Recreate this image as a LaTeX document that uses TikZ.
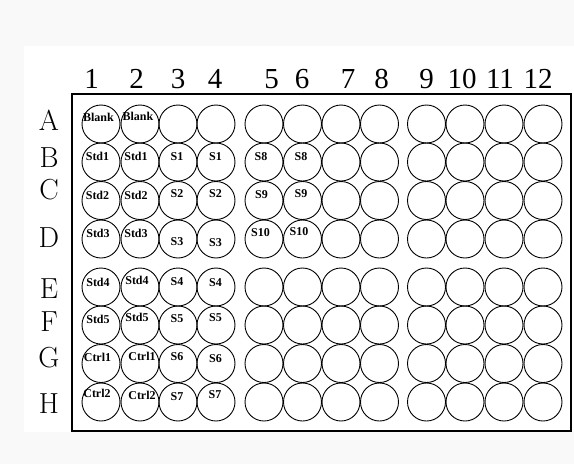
\documentclass[tikz,border=0pt]{standalone}
\usepackage{fontspec}
\newfontfamily\libser{Liberation Serif}
\begin{document}
\begin{tikzpicture}[x=1pt,y=-1pt,
  well/.style={circle,draw,line width=0.9pt,minimum size=38pt,inner sep=0pt},
  wtxt/.style={font=\libser\bfseries\fontsize{12}{12}\selectfont,inner sep=0pt},
  collab/.style={font=\libser\fontsize{29}{29}\selectfont,anchor=base,inner sep=0pt},
  rowlab/.style={font=\fontsize{29}{29}\selectfont,inner sep=0pt},
  platebox/.style={draw,line width=1.3pt,inner sep=0pt,minimum width=499pt,minimum height=337pt}]
\fill[gray!5] (0,0) rectangle (574,464);
\fill[white] (24,46) rectangle (574,432);
\useasboundingbox (0,0) rectangle (574,464);
\node[platebox] (plate) at (321.5,262.5) {};
% wells
\foreach \c/\x in {1/101,2/140,3/178,4/216,5/264,6/302.5,7/341,8/379.5,9/426.5,10/465,11/504,12/543}
  \foreach \r/\y in {A/124,B/162,C/200.5,D/239,E/287,F/325,G/363.5,H/402}
    \node[well] (w\r\c) at (\x,\y) {};
% column labels
\foreach \c/\x in {1/91.5,2/136.5,3/178,4/215,5/271.5,6/302,7/348,8/381.5,9/426.5,10/462,11/500,12/538}
  \node[collab] (col\c) at (\x,88) {\c};
% row labels
\foreach \r/\y in {A/120,B/158,C/190,D/238,E/289,F/322,G/358,H/404}
  \node[rowlab] (row\r) at (49,\y) {\r};
% well texts
\foreach \n/\x/\y/\t in {
  A1/98.5/117/Blank, A2/138/116/Blank,
  B1/97.5/156/Std1, B2/136/156/Std1, B3/177/157/S1, B4/215.5/157/S1, B5/261/157/S8, B6/301/157/S8,
  C1/97.5/195/Std2, C2/136/195/Std2, C3/177/194/S2, C4/215.5/194/S2, C5/261.5/195/S9, C6/301/194/S9,
  D1/98/233/Std3, D2/136/233/Std3, D3/177/242/S3, D4/215.5/243/S3, D5/260.5/233/S10, D6/299/232/S10,
  E1/98/282/Std4, E2/137/280/Std4, E3/177/282/S4, E4/215.5/283/S4,
  F1/98/319/Std5, F2/137/317/Std5, F3/177/319/S5, F4/215.5/318/S5,
  G1/97.5/357/Ctrl1, G2/142/356/Ctrl1, G3/177/357/S6, G4/215.5/359/S6,
  H1/97/393/Ctrl2, H2/142/395/Ctrl2, H3/177/397/S7, H4/215/395/S7}
  \node[wtxt] (t\n) at (\x,\y) {\t};
\end{tikzpicture}
\end{document}
